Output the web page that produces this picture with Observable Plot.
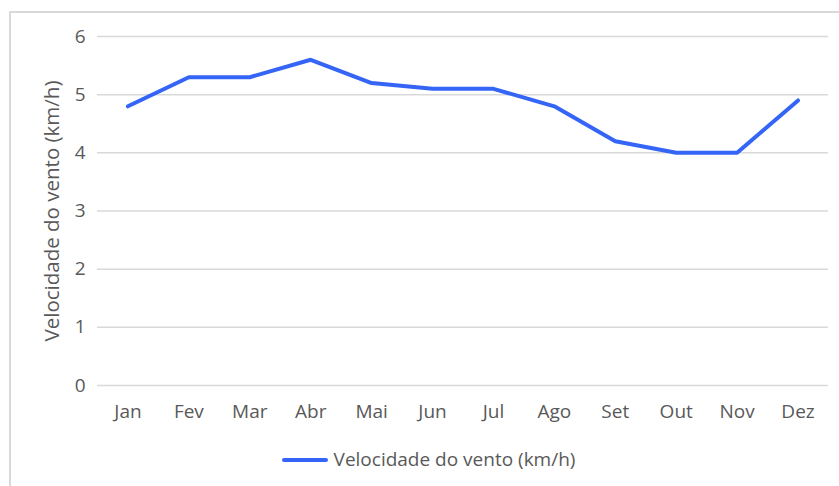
<!DOCTYPE html>
<html>
<head>
<meta charset="utf-8">
<script src="https://cdn.jsdelivr.net/npm/d3@7"></script>
<script src="https://cdn.jsdelivr.net/npm/@observablehq/plot@0.6"></script>
<style>
  html, body { margin: 0; padding: 0; background: #fff; }
  body { width: 839px; height: 486px; position: relative; overflow: hidden; font-family: "Open Sans", "Noto Sans", sans-serif; }
  #frame { position: absolute; left: 9px; top: 11px; width: 840px; height: 480px; border-left: 2px solid #d9d9d9; border-top: 2px solid #d9d9d9; pointer-events: none; }
  #chart { position: absolute; left: 0; top: 0; }
  #legend { position: absolute; left: 9px; top: 436px; width: 839px; height: 46px; display: flex; justify-content: center; align-items: center; color: #595959; font-size: 19px; }
  #legend .sw { display: inline-block; width: 46px; height: 4px; background: #3565f6; border-radius: 2px; margin-right: 6px; margin-top: 2px; }
</style>
</head>
<body>
<div id="chart"></div>
<div id="legend"><span class="sw"></span><span>Velocidade do vento (km/h)</span></div>
<div id="frame"></div>
<script>
const months = ["Jan","Fev","Mar","Abr","Mai","Jun","Jul","Ago","Set","Out","Nov","Dez"];
const windSpeed = [4.8, 5.3, 5.3, 5.6, 5.2, 5.1, 5.1, 4.8, 4.2, 4.0, 4.0, 4.9];
const yTicks = [0, 1, 2, 3, 4, 5, 6];
const seriesName = "Velocidade do vento (km/h)";

const data = months.map((m, i) => ({month: m, value: windSpeed[i]}));

const chart = Plot.plot({
  width: 839,
  height: 440,
  marginLeft: 97,
  marginRight: 11,
  marginTop: 36,
  marginBottom: 55,
  style: {fontFamily: "'Open Sans', 'Noto Sans', sans-serif", fontSize: "19px", color: "#595959", background: "transparent"},
  x: {type: "point", domain: months, padding: 0.5, round: false, label: null},
  y: {domain: [0, 6], ticks: yTicks, label: null},
  marks: [
    Plot.gridY(yTicks, {stroke: "#d9d9d9", strokeOpacity: 1, strokeWidth: 1.5}),
    Plot.axisY(yTicks, {tickSize: 0, tickPadding: 12, fontSize: 19, fill: "#595959", tickFormat: d3.format("d"), label: null}),
    Plot.axisX({tickSize: 0, tickPadding: 19, fontSize: 19, fill: "#595959", label: null}),
    Plot.text([seriesName], {frameAnchor: "left", dx: -45, rotate: -90, fontSize: 20.5, fill: "#595959", textAnchor: "middle"}),
    Plot.line(data, {x: "month", y: "value", stroke: "#3565f6", strokeWidth: 4, strokeLinejoin: "miter", strokeLinecap: "round"})
  ]
});
document.getElementById("chart").appendChild(chart);
</script>
</body>
</html>
